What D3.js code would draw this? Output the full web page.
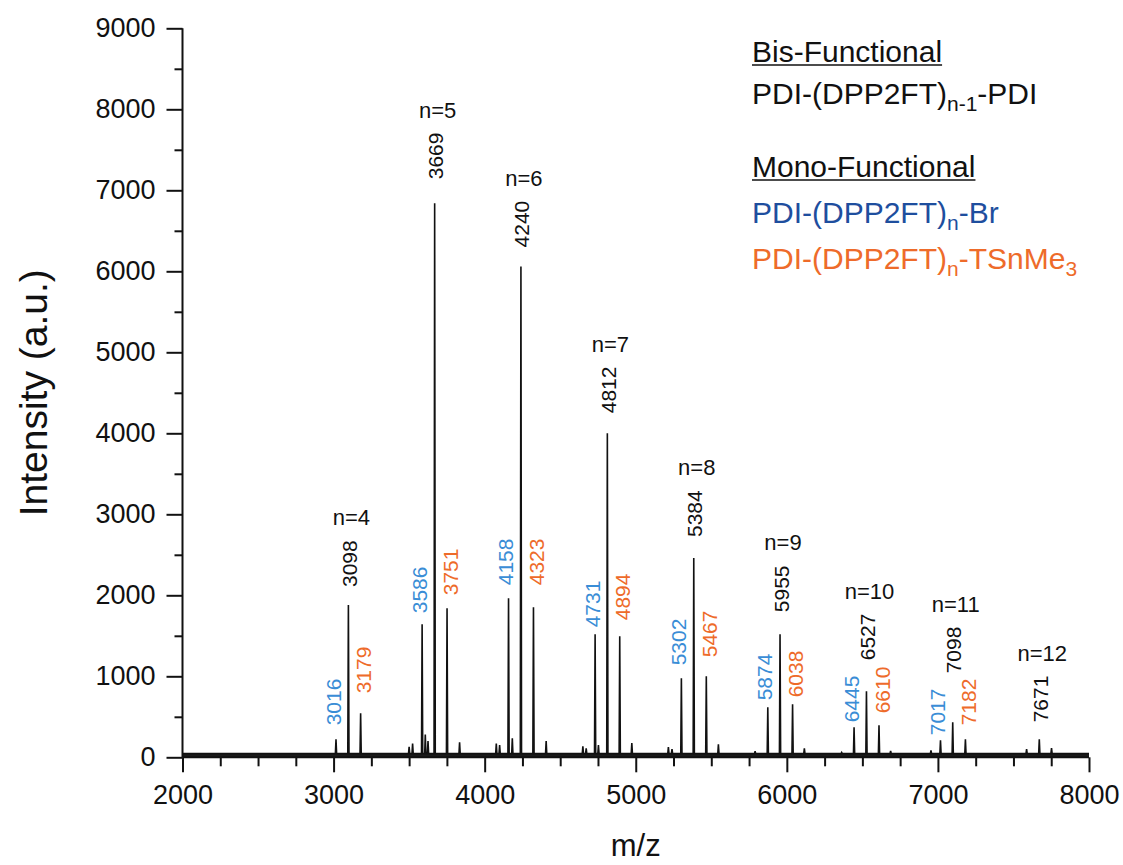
<!DOCTYPE html>
<html>
<head>
<meta charset="utf-8">
<script src="https://cdn.jsdelivr.net/npm/d3@7"></script>
<style>
  html, body { margin: 0; padding: 0; background: #fff; }
  svg { display: block; }
  svg text { font-family: "Liberation Sans", Arial, Helvetica, sans-serif; }
</style>
</head>
<body>
<svg id="chart" width="1123" height="865"></svg>
<script>
// ---------------- DATA ----------------
const xTicks = [2000, 3000, 4000, 5000, 6000, 7000, 8000];
const yTicks = [0, 1000, 2000, 3000, 4000, 5000, 6000, 7000, 8000, 9000];

// Bis-functional series PDI-(DPP2FT)n-1-PDI
const bisMz        = [3098, 3669, 4240, 4812, 5384, 5955, 6527, 7098, 7671];
const bisIntensity = [1880, 6840, 6060, 4000, 2460, 1520, 815, 432, 222];
const bisN         = ["n=4", "n=5", "n=6", "n=7", "n=8", "n=9", "n=10", "n=11", "n=12"];

// Mono-functional, Br end group
const brMz        = [3016, 3586, 4158, 4731, 5302, 5874, 6445, 7017];
const brIntensity = [222, 1642, 1963, 1518, 975, 617, 370, 210];

// Mono-functional, TSnMe3 end group
const snMz        = [3179, 3751, 4323, 4894, 5467, 6038, 6610, 7182];
const snIntensity = [543, 1840, 1852, 1494, 1000, 654, 395, 222];

// Unlabelled minor peaks
const minorMz        = [3500, 3523, 3607, 3625, 3834, 4077, 4099, 4183, 4407, 4650, 4672, 4753, 4974, 5216, 5240, 5547, 5790, 6116, 6363, 6687, 6954, 7587, 7752];
const minorIntensity = [130, 170, 280, 200, 185, 170, 150, 235, 200, 135, 110, 150, 175, 125, 100, 160, 75, 110, 60, 80, 85, 100, 115];

// Baseline noise level
const baselineLevel = 45;

// ---------------- LAYOUT / STYLE ----------------
const plot = { left: 182.5, right: 1089, top: 28.3, bottom: 757.3 };
const FONT = "'Liberation Sans', Arial, Helvetica, sans-serif";
const colBlack = "#111111";
const colBlue = "#3A8DD6";
const colBlueLegend = "#1E4E9E";
const colOrange = "#EE6B2A";
// pixel gap between peak apex and label start (annotation layout)
const labelGap = {
  3016: 14, 3098: 18, 3179: 20, 3586: 11, 3669: 24, 3751: 13, 4158: 13, 4240: 19, 4323: 22,
  4731: 7, 4812: 20, 4894: 16, 5302: 13, 5384: 21, 5467: 19, 5874: 7, 5955: 22, 6038: 7,
  6445: 5, 6527: 31, 6610: 12, 7017: 5, 7098: 49, 7182: 14, 7671: 17
};

const svg = d3.select("#chart").attr("font-family", FONT);

const x = d3.scaleLinear().domain([2000, 8000]).range([plot.left, plot.right]);
const y = d3.scaleLinear().domain([0, 9000]).range([plot.bottom, plot.top]);

// ---------------- SPECTRUM ----------------
const allPeaks = [];
bisMz.forEach((m, i) => allPeaks.push([m, bisIntensity[i]]));
brMz.forEach((m, i) => allPeaks.push([m, brIntensity[i]]));
snMz.forEach((m, i) => allPeaks.push([m, snIntensity[i]]));
minorMz.forEach((m, i) => allPeaks.push([m, minorIntensity[i]]));
allPeaks.sort((a, b) => a[0] - b[0]);

const hw = 4; // half width of a peak in m/z units
const pts = [[2000, baselineLevel]];
allPeaks.forEach(([m, v]) => {
  pts.push([m - hw, baselineLevel]);
  pts.push([m, v]);
  pts.push([m + hw, baselineLevel]);
});
pts.push([8000, baselineLevel]);

// baseline noise band
svg.append("path")
  .datum([[2000, baselineLevel], [8000, baselineLevel]])
  .attr("d", d3.area().x(d => x(d[0])).y0(y(0)).y1(d => y(d[1])))
  .attr("fill", "#1a1a1a");

svg.append("path")
  .datum(pts)
  .attr("d", d3.line().x(d => x(d[0])).y(d => y(d[1])))
  .attr("fill", "none")
  .attr("stroke", colBlack)
  .attr("stroke-width", 1.6)
  .attr("stroke-linejoin", "miter");

// ---------------- AXES ----------------
const xMinor = d3.range(2000, 8001, 250).filter(v => v % 1000 !== 0);
const yMinor = d3.range(500, 9000, 1000);

const gx = svg.append("g").attr("transform", `translate(0,${plot.bottom})`);
gx.call(d3.axisBottom(x).tickValues(xMinor).tickSize(9).tickFormat(""))
  .call(g => g.select(".domain").remove());
gx.append("g").call(d3.axisBottom(x).tickValues(xTicks).tickSize(15).tickPadding(13).tickFormat(d3.format("d")))
  .call(g => g.select(".domain").attr("d", `M${plot.left},0H${plot.right}`));
gx.attr("font-family", FONT);
gx.selectAll("g").attr("font-family", FONT);
gx.selectAll("line").attr("stroke", colBlack).attr("stroke-width", 2);
gx.selectAll(".domain").attr("stroke", colBlack).attr("stroke-width", 2);
gx.selectAll("text").attr("font-size", 27).attr("fill", colBlack).attr("font-family", FONT);

const gy = svg.append("g").attr("transform", `translate(${plot.left},0)`);
gy.call(d3.axisLeft(y).tickValues(yMinor).tickSize(8).tickFormat(""))
  .call(g => g.select(".domain").remove());
gy.append("g").call(d3.axisLeft(y).tickValues(yTicks).tickSize(16).tickPadding(11).tickFormat(d3.format("d")))
  .call(g => g.select(".domain").attr("d", `M0,${plot.top}V${plot.bottom}`));
gy.attr("font-family", FONT);
gy.selectAll("g").attr("font-family", FONT);
gy.selectAll("line").attr("stroke", colBlack).attr("stroke-width", 2);
gy.selectAll(".domain").attr("stroke", colBlack).attr("stroke-width", 2);
gy.selectAll("text").attr("font-size", 27).attr("fill", colBlack).attr("font-family", FONT);

// axis titles
svg.append("text")
  .attr("x", (plot.left + plot.right) / 2).attr("y", 856)
  .attr("text-anchor", "middle").attr("font-size", 31).attr("fill", colBlack)
  .text("m/z");

svg.append("text")
  .attr("transform", `translate(47,${(plot.top + plot.bottom) / 2}) rotate(-90)`)
  .attr("text-anchor", "middle").attr("font-size", 39).attr("fill", colBlack)
  .text("Intensity (a.u.)");

// ---------------- PEAK LABELS ----------------
const labelG = svg.append("g").attr("font-size", 21);
function addLabels(mzs, vals, color, dxShift, nLabels) {
  mzs.forEach((m, i) => {
    const px = x(m) + dxShift;
    const py = y(vals[i]) - labelGap[m];
    const t = labelG.append("text")
      .attr("transform", `translate(${px},${py}) rotate(-90)`)
      .attr("dy", "0.36em")
      .attr("text-anchor", "start")
      .attr("fill", color)
      .text(String(m));
    if (nLabels) {
      const len = t.node().getComputedTextLength();
      labelG.append("text")
        .attr("x", x(m) + 3)
        .attr("y", py - len - 15)
        .attr("text-anchor", "middle")
        .attr("font-size", 22)
        .attr("fill", colBlack)
        .text(nLabels[i]);
    }
  });
}
addLabels(bisMz, bisIntensity, colBlack, 1, bisN);
addLabels(brMz, brIntensity, colBlue, -3, null);
addLabels(snMz, snIntensity, colOrange, 3, null);

// ---------------- LEGEND ----------------
const lg = svg.append("g").attr("font-size", 30);
const lx = 752;
function underlineText(txt, yb) {
  const t = lg.append("text").attr("x", lx).attr("y", yb).attr("fill", colBlack).text(txt);
  const w = t.node().getComputedTextLength();
  lg.append("line").attr("x1", lx).attr("x2", lx + w).attr("y1", yb + 3).attr("y2", yb + 3)
    .attr("stroke", colBlack).attr("stroke-width", 1.6);
}
function formula(parts, yb, color) {
  const t = lg.append("text").attr("x", lx).attr("y", yb).attr("fill", color);
  let shifted = false;
  parts.forEach(p => {
    if (p.sub) {
      t.append("tspan").attr("font-size", 21).attr("dy", 7).text(p.sub);
      shifted = true;
    } else {
      const s = t.append("tspan").text(p.t);
      if (shifted) { s.attr("dy", -7); shifted = false; }
    }
  });
}
underlineText("Bis-Functional", 62);
formula([{ t: "PDI-(DPP2FT)" }, { sub: "n-1" }, { t: "-PDI" }], 104, colBlack);
underlineText("Mono-Functional", 177);
formula([{ t: "PDI-(DPP2FT)" }, { sub: "n" }, { t: "-Br" }], 223, colBlueLegend);
formula([{ t: "PDI-(DPP2FT)" }, { sub: "n" }, { t: "-TSnMe" }, { sub: "3" }], 269, colOrange);
</script>
</body>
</html>
